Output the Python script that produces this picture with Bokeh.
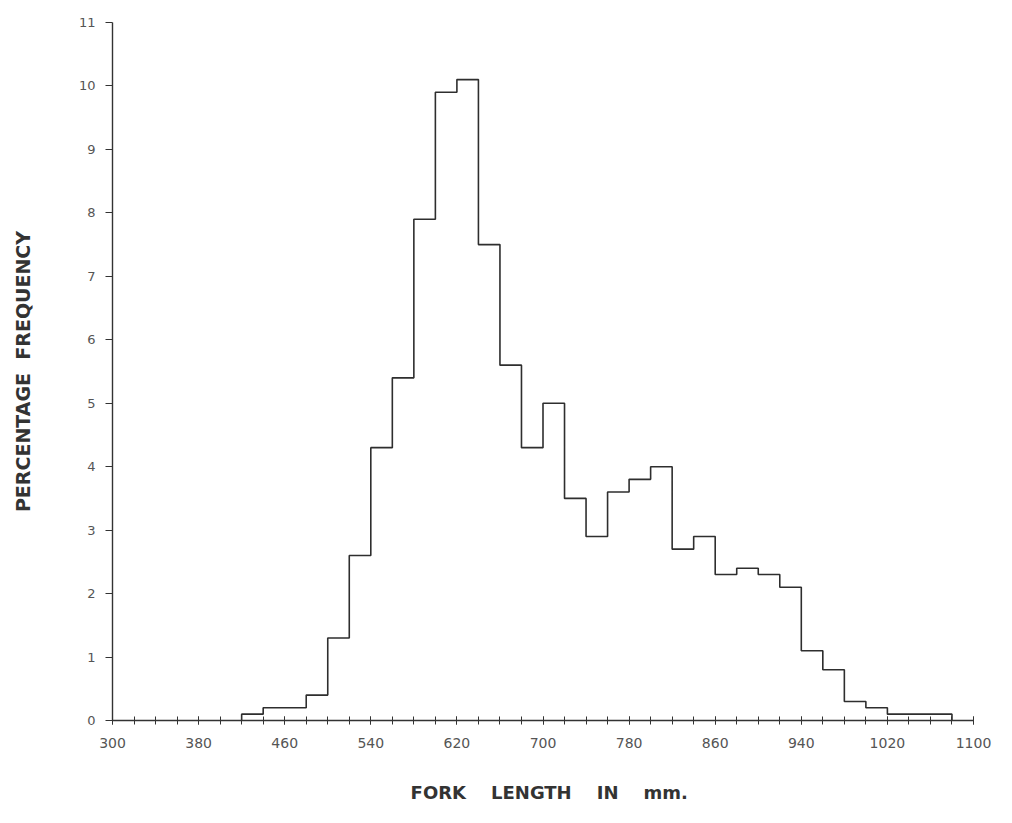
from bokeh.plotting import figure
from bokeh.models import Range1d, FixedTicker
from bokeh.embed import file_html
from bokeh.resources import INLINE

# ---- data ----
bin_start = 420
bin_width = 20
percent = [0.1, 0.2, 0.2, 0.4, 1.3, 2.6, 4.3, 5.4, 7.9, 9.9, 10.1, 7.5, 5.6,
           4.3, 5.0, 3.5, 2.9, 3.6, 3.8, 4.0, 2.7, 2.9, 2.3, 2.4, 2.3, 2.1,
           1.1, 0.8, 0.3, 0.2, 0.1, 0.1, 0.1]
x_ticks = [300, 380, 460, 540, 620, 700, 780, 860, 940, 1020, 1100]
x_minor = list(range(300, 1101, 20))
y_ticks = list(range(0, 12))

NB = "\u00a0"
x_title = NB * 2 + (NB * 3 + " ").join(["FORK", "LENGTH", "IN", "mm."])
y_title = (NB + " ").join(["PERCENTAGE", "FREQUENCY"])

# step outline built from the bins
xs, ys = [], []
for i, v in enumerate(percent):
    left = bin_start + i * bin_width
    right = left + bin_width
    prev = percent[i - 1] if i > 0 else 0
    xs += [left, left, right]
    ys += [prev, v, v]
xs += [xs[-1]]
ys += [0]

p = figure(width=996, height=807, output_backend="svg", toolbar_location=None,
           x_range=Range1d(300, 1100), y_range=Range1d(0, 11),
           min_border_left=112, min_border_right=23, min_border_top=22,
           min_border_bottom=87)
p.outline_line_color = None
p.background_fill_color = "white"
p.border_fill_color = "white"
p.grid.visible = False

p.line(xs, ys, line_color="#2e2e2e", line_width=1.6)

xa = p.xaxis[0]
xa.ticker = FixedTicker(ticks=x_ticks, minor_ticks=x_minor)
xa.axis_line_color = "#333333"
xa.axis_line_width = 1.4
xa.major_tick_line_color = "#333333"
xa.minor_tick_line_color = "#333333"
xa.major_tick_in = 4
xa.major_tick_out = 4
xa.minor_tick_in = 4
xa.minor_tick_out = 4
xa.major_label_standoff = 13
xa.major_label_text_font = "DejaVu Sans"
xa.major_label_text_font_size = "14px"
xa.major_label_text_color = "#555555"
xa.axis_label = x_title
xa.axis_label_text_font = "DejaVu Sans"
xa.axis_label_text_font_style = "bold"
xa.axis_label_text_font_size = "18px"
xa.axis_label_text_color = "#333333"
xa.axis_label_standoff = 31

ya = p.yaxis[0]
ya.ticker = FixedTicker(ticks=y_ticks, minor_ticks=[])
ya.axis_line_color = "#333333"
ya.axis_line_width = 1.4
ya.major_tick_line_color = "#333333"
ya.major_tick_in = 0
ya.major_tick_out = 7
ya.minor_tick_in = 0
ya.minor_tick_out = 0
ya.major_label_standoff = 10
ya.major_label_text_font = "DejaVu Sans"
ya.major_label_text_font_size = "13px"
ya.major_label_text_color = "#555555"
ya.axis_label = y_title
ya.axis_label_text_font = "DejaVu Sans"
ya.axis_label_text_font_style = "bold"
ya.axis_label_text_font_size = "19px"
ya.axis_label_text_color = "#333333"
ya.axis_label_standoff = 42

open("out.html", "w").write(file_html(p, INLINE))
